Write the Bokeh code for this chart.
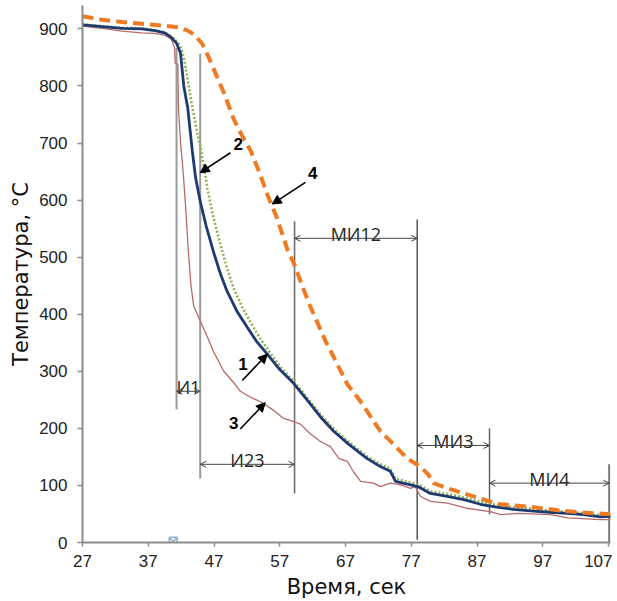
from bokeh.plotting import figure
from bokeh.models import Range1d, FixedTicker, Arrow, OpenHead, NormalHead
from bokeh.core.properties import value
from bokeh.embed import file_html
from bokeh.resources import INLINE

# ---- data ----
x_ticks = [27, 37, 47, 57, 67, 77, 87, 97, 107]
y_ticks = [0, 100, 200, 300, 400, 500, 600, 700, 800, 900]

# curve 1 (dark blue)
c1_x = [27, 30, 33, 36, 38, 39.5, 40.5, 41.3, 41.9, 42.4, 43.0, 43.7, 44.2, 44.9, 45.8, 46.9, 48, 49,
        50.5, 52, 53.5, 55.1, 57, 59.1, 61, 63.2, 65.2, 67.5, 70.3, 72.3, 73.8, 74.6, 76.9, 78, 79.9,
        82.5, 85, 87.5, 90, 92.5, 95.6, 98, 100.8, 103.2, 105.8, 108.4]
c1_y = [907, 904, 901, 900, 897, 893, 885, 875, 858, 800, 762, 686, 639, 598, 555, 510, 470, 440,
        405, 378, 352, 330, 303, 279, 252, 220, 195, 172, 147, 133, 125, 107, 101, 98, 86,
        81, 75, 67, 62, 58, 55, 53, 51, 49, 45, 46]

# curve 2 (green dotted)
c2_x = [27, 33, 36, 38, 39.5, 40.5, 41.5, 42.0, 42.5, 43.0, 43.5, 44.0, 44.5, 45.0, 45.5, 46.0, 46.8,
        47.9, 49.0, 50.0, 51.3, 52.6, 54.0, 55.5, 57.2, 59.1, 61, 63.2, 65.2, 67.5, 70.3, 72.3, 73.8,
        74.6, 76.9, 78, 79.9, 82.5, 85, 87.5, 90, 92.5, 95.6, 98, 100.8, 103.2, 105.8, 108.4]
c2_y = [908, 902, 901, 898, 894, 887, 876, 866, 845, 810, 775, 745, 715, 690, 655, 620, 575,
        525, 480, 445, 412, 385, 358, 333, 306, 283, 256, 224, 199, 176, 151, 137, 130,
        112, 105, 102, 90, 85, 79, 71, 66, 62, 59, 56, 54, 51, 48, 48]

# curve 3 (thin red)
c3_x = [27, 30, 33, 36, 38, 39.5, 40.5, 41.0, 41.1, 41.5, 41.6, 41.9, 42.3, 42.7, 43.1, 43.5, 43.9,
        44.9, 46, 46.9, 48.5, 50, 51, 52.5, 54.5, 56, 57.5, 59.1, 60.2, 61.5, 63.2, 64.7, 66, 67.3,
        68.2, 69.3, 71.3, 72.3, 73.8, 75.4, 76.9, 77.6, 78.4, 79.9, 82.5, 85.5, 89, 90.6, 93.2,
        98.2, 100.8, 105.8, 108.4]
c3_y = [905, 901, 896, 893, 892, 889, 882, 868, 840, 838, 760, 703, 650, 586, 510, 450, 415,
        388, 360, 335, 300, 280, 265, 255, 244, 232, 218, 212, 207, 192, 177, 168, 147, 142,
        124, 107, 104, 98, 104, 101, 95, 98, 81, 72, 69, 60, 54, 49, 51,
        49, 43, 40, 40]

# curve 4 (orange dashed)
c4_x = [27, 30, 33, 36, 39, 41.5, 43, 44, 45.2, 46.2, 47.5, 48.5, 50, 51.3, 52.6, 54, 55.1, 56.6,
        58.2, 59.2, 60.5, 61.7, 62.7, 64, 65.2, 67.3, 69.3, 71.3, 72.3, 74.3, 76.4, 78.4, 79.6, 80.4,
        82.5, 85, 87.5, 89.5, 90.6, 94.7, 99.7, 102.7, 105, 108.4]
c4_y = [922, 916, 912, 909, 906, 903, 897, 890, 874, 850, 815, 788, 742, 712, 686, 645, 610, 568,
        512, 488, 447, 412, 386, 352, 325, 277, 247, 212, 195, 172, 147, 133, 119, 104,
        95, 86, 77, 70, 67, 63, 56, 53, 51, 49]

# interval markers
vline_x = [41.3, 44.9, 59.25, 77.9, 88.9, 107.1]
vline_y0 = [233, 112, 86, 5, 49, 0]
vline_y1 = [867, 856, 563, 566, 200, 137]
vline_color = ["#9a9a9a", "#9a9a9a", "#707070", "#3a3a3a", "#666666", "#777777"]
vline_width = [2, 2, 1.6, 1.3, 1.5, 2]

interval_labels = ["И1", "И23", "МИ12", "МИ3", "МИ4"]
interval_x0 = [41.3, 44.9, 59.25, 77.9, 88.9]
interval_x1 = [44.9, 59.25, 77.9, 88.9, 107.1]
interval_y = [265, 137, 533, 170, 104]

callout_labels = ["1", "2", "3", "4"]
callout_lx = [51.4, 50.7, 50.0, 62.0]
callout_ly = [313, 699, 210, 648]
callout_x0 = [51.3, 49.5, 51.0, 60.9]
callout_y0 = [284, 683, 199, 631]
callout_x1 = [55.1, 44.9, 54.8, 55.85]
callout_y1 = [330, 648, 245, 593]

# ---- figure ----
p = figure(width=612, height=601, output_backend="svg", toolbar_location=None,
           x_range=Range1d(27, 107.3), y_range=Range1d(0, 941),
           min_border_left=82, min_border_right=2, min_border_top=5, min_border_bottom=59)
p.outline_line_color = None
p.grid.visible = False
p.background_fill_color = "white"

for ax in (p.xaxis, p.yaxis):
    ax.axis_line_color = "#8c8c8c"
    ax.axis_line_width = 2
    ax.major_tick_line_color = "#8c8c8c"
    ax.major_tick_line_width = 1.5
    ax.major_tick_in = 0
    ax.minor_tick_line_color = None
    ax.major_label_text_font = "Liberation Sans"
    ax.major_label_text_font_size = "17px"
    ax.major_label_text_color = "#222222"
    ax.axis_label_text_font = "DejaVu Sans"
    ax.axis_label_text_font_size = "21px"
    ax.axis_label_text_font_style = "normal"
    ax.axis_label_text_color = "#111111"

p.xaxis.ticker = FixedTicker(ticks=x_ticks)
p.yaxis.ticker = FixedTicker(ticks=y_ticks)
p.xaxis.major_tick_out = 4
p.yaxis.major_tick_out = 5
p.xaxis.major_label_standoff = 8
p.yaxis.major_label_standoff = 10
p.xaxis.axis_label = "Время, сек"
p.yaxis.axis_label = "Температура, °С"
p.xaxis.axis_label_standoff = 5
p.yaxis.axis_label_standoff = 3

# interval vertical lines
p.segment(x0=vline_x, y0=vline_y0, x1=vline_x, y1=vline_y1,
          line_color=vline_color, line_width=vline_width)

# curves
p.line(c3_x, c3_y, line_color="#b86a6a", line_width=1.3)
p.line(c2_x, c2_y, line_color="#8cb253", line_width=2.6, line_dash="2 2")
p.line(c1_x, c1_y, line_color="#1f3a70", line_width=2.8)
p.line(c4_x, c4_y, line_color="#f07a22", line_width=4, line_dash="11 6")

# small leftover marker on the x axis
p.scatter([40.8], [2], marker="square_x", size=8, fill_color=None,
          line_color="#8fb4d8", line_width=1.5)

# interval double arrows and labels
for x0, x1, y in zip(interval_x0, interval_x1, interval_y):
    p.add_layout(Arrow(start=OpenHead(size=6, line_width=1, line_color="#444444"),
                       end=OpenHead(size=6, line_width=1, line_color="#444444"),
                       x_start=x0, y_start=y, x_end=x1, y_end=y,
                       line_color="#444444", line_width=1))
p.text(x=[(a + b) / 2 for a, b in zip(interval_x0, interval_x1)],
       y=[y + 8 for y in interval_y], text=interval_labels,
       text_font=value("Open Sans"), text_font_size="18px", text_color="#222222",
       text_align="center", text_baseline="alphabetic")

# callout arrows with numbers
for x0, y0, x1, y1 in zip(callout_x0, callout_y0, callout_x1, callout_y1):
    p.add_layout(Arrow(end=NormalHead(size=9, fill_color="black", line_color="black"),
                       x_start=x0, y_start=y0, x_end=x1, y_end=y1,
                       line_color="black", line_width=1.6))
p.text(x=callout_lx, y=callout_ly, text=callout_labels,
       text_font=value("Liberation Sans"), text_font_size="17px", text_font_style="bold",
       text_color="black", text_align="center", text_baseline="middle")

open("out.html", "w").write(file_html(p, INLINE))
